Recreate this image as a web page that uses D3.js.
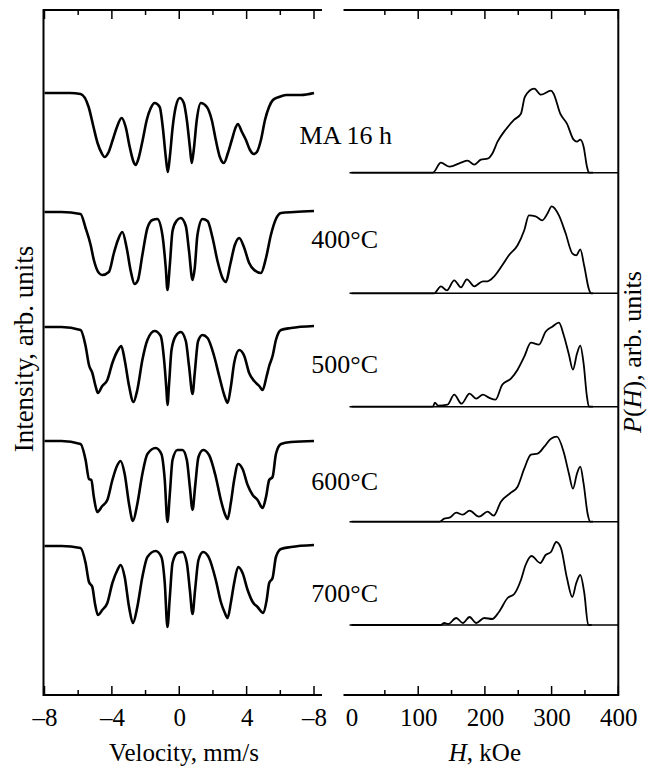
<!DOCTYPE html>
<html>
<head>
<meta charset="utf-8">
<script src="https://cdn.jsdelivr.net/npm/d3@7"></script>
<style>
  body { margin: 0; background: #fff; }
  text { font-family: "Liberation Serif", "Times New Roman", serif; fill: #000; }
</style>
</head>
<body>
<div id="chart"></div>
<script>
// sample names (top to bottom)
const samples = ["MA 16 h", "400°C", "500°C", "600°C", "700°C"];

// Mossbauer spectra: [velocity mm/s, absorption arb. units]
const specMA16 = [[-8,0],[-7,0],[-6.5,0],[-5.86,1],[-5.38,14],[-5.09,34],[-4.85,50],[-4.61,60],[-4.43,64],[-4.19,59],[-3.95,47],[-3.72,35],[-3.42,25],[-3.18,34],[-2.94,54],[-2.71,69],[-2.59,72],[-2.41,65],[-2.17,47],[-1.93,27],[-1.69,15],[-1.46,10],[-1.16,14],[-0.98,34],[-0.80,64],[-0.68,79],[-0.56,64],[-0.39,34],[-0.21,14],[0.03,5],[0.27,10],[0.45,27],[0.63,54],[0.74,70],[0.86,57],[1.04,27],[1.28,10],[1.64,14],[1.93,27],[2.17,47],[2.41,64],[2.65,70],[2.89,60],[3.12,47],[3.36,34],[3.48,31],[3.72,39],[3.96,47],[4.20,57],[4.43,61],[4.61,59],[4.85,47],[5.09,27],[5.33,14],[5.56,7],[5.92,4],[6.34,2],[7.23,2],[8,0]];
const spec400 = [[-8,0],[-7,0],[-5.86,2],[-5.56,16],[-5.26,33],[-5.07,48],[-4.77,61],[-4.57,63],[-4.18,60],[-3.88,41],[-3.64,28],[-3.38,20],[-3.12,36],[-2.88,59],[-2.65,72],[-2.45,68],[-2.19,43],[-1.89,16],[-1.59,8],[-1.30,7],[-1.00,23],[-0.80,56],[-0.70,78],[-0.56,53],[-0.40,19],[-0.17,9],[0.09,6],[0.39,14],[0.58,39],[0.79,68],[0.92,56],[1.08,23],[1.38,7],[1.68,9],[1.98,26],[2.27,49],[2.57,66],[2.77,70],[3.02,53],[3.30,33],[3.56,26],[3.86,36],[4.15,51],[4.45,58],[4.85,61],[5.15,46],[5.44,23],[5.74,7],[6.04,1],[6.83,0],[8,-1]];
const spec500 = [[-8,0],[-7,0],[-5.86,3],[-5.56,19],[-5.36,38],[-5.16,46],[-4.97,59],[-4.83,66],[-4.57,59],[-4.27,53],[-3.97,36],[-3.67,24],[-3.44,19],[-3.24,33],[-2.98,59],[-2.72,75],[-2.49,63],[-2.19,33],[-1.89,13],[-1.46,4],[-1.10,9],[-0.90,33],[-0.76,63],[-0.70,78],[-0.60,56],[-0.46,23],[-0.21,9],[0.09,5],[0.39,14],[0.58,39],[0.79,67],[0.92,46],[1.12,14],[1.38,8],[1.68,11],[2.07,29],[2.37,49],[2.67,68],[2.87,76],[3.07,59],[3.26,36],[3.56,23],[3.86,29],[4.15,46],[4.45,54],[4.75,59],[4.95,63],[5.19,49],[5.34,39],[5.54,29],[5.74,13],[6.04,3],[6.63,1],[8,-1]];
const spec600 = [[-8,0],[-7,0],[-5.86,3],[-5.56,19],[-5.36,38],[-5.22,39],[-5.07,56],[-4.87,71],[-4.57,65],[-4.27,59],[-3.97,39],[-3.67,24],[-3.48,20],[-3.24,33],[-2.98,63],[-2.75,80],[-2.49,63],[-2.19,33],[-1.89,13],[-1.40,7],[-1.06,13],[-0.86,39],[-0.70,81],[-0.56,53],[-0.40,19],[-0.11,9],[0.19,9],[0.45,19],[0.63,46],[0.79,69],[0.94,46],[1.14,16],[1.42,9],[1.77,14],[2.17,36],[2.47,59],[2.71,73],[2.87,78],[3.07,61],[3.26,39],[3.50,23],[3.76,28],[4.06,44],[4.36,54],[4.65,59],[4.95,67],[5.15,56],[5.34,39],[5.54,36],[5.74,13],[6.04,3],[6.63,1],[8,0]];
const spec700 = [[-8,0],[-7,0],[-5.86,2],[-5.56,17],[-5.36,36],[-5.16,41],[-5.01,57],[-4.83,69],[-4.57,64],[-4.27,57],[-3.97,37],[-3.67,24],[-3.48,19],[-3.24,31],[-2.98,61],[-2.75,77],[-2.49,61],[-2.19,31],[-1.89,11],[-1.40,5],[-1.06,11],[-0.86,37],[-0.70,81],[-0.56,51],[-0.40,17],[-0.11,7],[0.19,6],[0.45,17],[0.63,44],[0.79,68],[0.94,44],[1.14,14],[1.42,6],[1.77,12],[2.17,34],[2.47,56],[2.71,67],[2.87,72],[3.07,56],[3.26,37],[3.50,21],[3.76,27],[4.06,44],[4.36,56],[4.65,61],[4.99,67],[5.19,54],[5.34,37],[5.54,32],[5.74,11],[6.04,3],[6.63,1],[8,-1]];

// hyperfine field distributions: [H kOe, P(H) arb. units]
const distMA16 = [[0,0],[122,0],[134,10],[147,6],[164,10],[174,12],[184,8],[194,13],[204,14],[211,19],[219,31],[231,43],[244,53],[254,59],[260,76],[274,84],[284,78],[299,82],[303,79],[313,59],[323,49],[333,33],[338,31],[343,33],[348,26],[353,6],[356,0],[362,0]];
const dist400 = [[0,0],[124,0],[134,7],[143,3],[154,13],[164,6],[173,14],[184,7],[197,12],[204,12],[214,17],[226,28],[236,38],[249,48],[259,63],[266,78],[276,77],[286,73],[294,80],[300,87],[311,78],[321,60],[331,40],[337,38],[343,44],[349,27],[356,4],[359,0],[362,0]];
const dist500 = [[0,0],[122,0],[125,4],[130,1],[144,2],[154,12],[165,3],[177,13],[187,8],[197,12],[206,9],[216,7],[226,22],[239,28],[249,37],[259,50],[269,64],[281,62],[291,75],[301,80],[311,84],[318,72],[326,52],[332,37],[338,53],[343,61],[348,43],[353,10],[356,0],[362,0]];
const dist600 = [[0,0],[132,0],[139,3],[147,4],[157,9],[167,7],[177,11],[191,5],[204,10],[213,6],[224,20],[239,29],[249,35],[259,53],[269,67],[279,68],[289,75],[299,83],[308,85],[318,70],[326,48],[332,33],[338,48],[343,55],[348,38],[354,8],[358,0],[362,0]];
const dist700 = [[0,0],[134,0],[139,2],[145,1],[157,7],[167,2],[177,8],[187,2],[199,7],[211,6],[221,13],[234,27],[244,31],[254,45],[261,60],[270,69],[283,62],[291,70],[299,73],[307,83],[314,77],[323,47],[331,28],[337,42],[343,50],[349,32],[355,0],[360,0]];

// tick values and labels
const velMajor = [-8, -4, 0, 4, 8];
const velMajorLabels = ["–8", "–4", "0", "4", "–8"];
const velMinor = [-6, -2, 2, 6];
const hMajor = [0, 100, 200, 300, 400];
const hMinor = [50, 150, 250, 350];

const spectra = [specMA16, spec400, spec500, spec600, spec700];
const dists = [distMA16, dist400, dist500, dist600, dist700];

// layout
const W = 648, H = 767;
const yTop = 10, yBottom = 695;
const specBase = [93, 212, 327, 441, 546];
const distBase = [172.7, 293.3, 406.7, 521.7, 625];
const labelY = [144, 248, 373, 490, 602];
const labelX = [392, 378, 378, 378, 378];

const svg = d3.select("#chart").append("svg")
    .attr("width", W)
    .attr("height", H);

const xV = d3.scaleLinear().domain([-8, 8]).range([44.5, 314]);
const xH = d3.scaleLinear().domain([0, 400]).range([351.5, 618.3]);

// frames
const frame = svg.append("g")
    .attr("fill", "none")
    .attr("stroke", "#000")
    .attr("stroke-width", 2);
const lx0 = xV(-8) - 1, lx1 = xV(8) + 8;
const rx0 = xH(0) - 8, rx1 = xH(400);
frame.append("path").attr("d", `M${lx1},${yTop}H${lx0}V${yBottom}H${lx1}`);
frame.append("path").attr("d", `M${rx0},${yTop}H${rx1}V${yBottom}H${rx0}`);

function ticks(scale, values, len, y, dir){
    svg.append("g")
        .attr("stroke", "#000")
        .attr("stroke-width", 1.5)
        .selectAll("line")
        .data(values)
        .join("line")
        .attr("x1", d => scale(d))
        .attr("x2", d => scale(d))
        .attr("y1", y)
        .attr("y2", y + dir * len);
}
ticks(xV, velMajor, 9, yTop, 1);
ticks(xV, velMinor, 5, yTop, 1);
ticks(xV, velMajor, 9, yBottom, -1);
ticks(xV, velMinor, 5, yBottom, -1);
ticks(xH, hMajor.slice(1), 9, yTop, 1);
ticks(xH, hMinor, 5, yTop, 1);
ticks(xH, hMajor.slice(1), 9, yBottom, -1);
ticks(xH, hMinor, 5, yBottom, -1);

// bottom tick labels via d3 axes (ticks drawn above)
const axV = svg.append("g")
    .attr("transform", `translate(0,${yBottom})`)
    .call(d3.axisBottom(xV).tickValues(velMajor)
        .tickFormat((d, i) => velMajorLabels[i])
        .tickSize(0).tickPadding(13));
const axH = svg.append("g")
    .attr("transform", `translate(0,${yBottom})`)
    .call(d3.axisBottom(xH).tickValues(hMajor)
        .tickFormat(d3.format("d"))
        .tickSize(0).tickPadding(13));
[axV, axH].forEach(ax => {
    ax.select(".domain").remove();
    ax.selectAll("text")
        .attr("font-family", "Liberation Serif, Times New Roman, serif")
        .attr("font-size", 25);
});

// spectra
spectra.forEach((s, i) => {
    const y = d3.scaleLinear().domain([0, 80]).range([specBase[i], specBase[i] + 80]);
    const line = d3.line()
        .x(d => xV(d[0]))
        .y(d => y(d[1]))
        .curve(d3.curveMonotoneX);
    svg.append("path")
        .datum(s)
        .attr("fill", "none")
        .attr("stroke", "#000")
        .attr("stroke-width", 2.6)
        .attr("stroke-linejoin", "round")
        .attr("d", line);
});

// P(H) distributions
dists.forEach((s, i) => {
    const y = d3.scaleLinear().domain([0, 90]).range([distBase[i], distBase[i] - 90]);
    svg.append("line")
        .attr("x1", xH(0) - 2)
        .attr("x2", xH(400))
        .attr("y1", y(0))
        .attr("y2", y(0))
        .attr("stroke", "#000")
        .attr("stroke-width", 1.5);
    const line = d3.line()
        .x(d => xH(d[0]))
        .y(d => y(d[1]))
        .curve(d3.curveMonotoneX);
    svg.append("path")
        .datum(s)
        .attr("fill", "none")
        .attr("stroke", "#000")
        .attr("stroke-width", 1.8)
        .attr("d", line);
});

// sample labels
svg.selectAll(".sample")
    .data(samples)
    .join("text")
    .attr("class", "sample")
    .attr("x", (d, i) => labelX[i])
    .attr("y", (d, i) => labelY[i])
    .attr("text-anchor", "end")
    .attr("font-size", 26)
    .text(d => d);

// axis titles
svg.append("text")
    .attr("x", 184)
    .attr("y", 761)
    .attr("text-anchor", "middle")
    .attr("font-size", 25)
    .text("Velocity, mm/s");

const hTitle = svg.append("text")
    .attr("x", xH(200))
    .attr("y", 761)
    .attr("text-anchor", "middle")
    .attr("font-size", 25);
hTitle.append("tspan").attr("font-style", "italic").text("H");
hTitle.append("tspan").text(", kOe");

svg.append("text")
    .attr("transform", "translate(33,349) rotate(-90)")
    .attr("text-anchor", "middle")
    .attr("font-size", 27)
    .text("Intensity, arb. units");

const pTitle = svg.append("text")
    .attr("transform", "translate(641,352) rotate(-90)")
    .attr("text-anchor", "middle")
    .attr("font-size", 26);
pTitle.append("tspan").attr("font-style", "italic").text("P");
pTitle.append("tspan").text("(");
pTitle.append("tspan").attr("font-style", "italic").text("H");
pTitle.append("tspan").text("), arb. units");
</script>
</body>
</html>
